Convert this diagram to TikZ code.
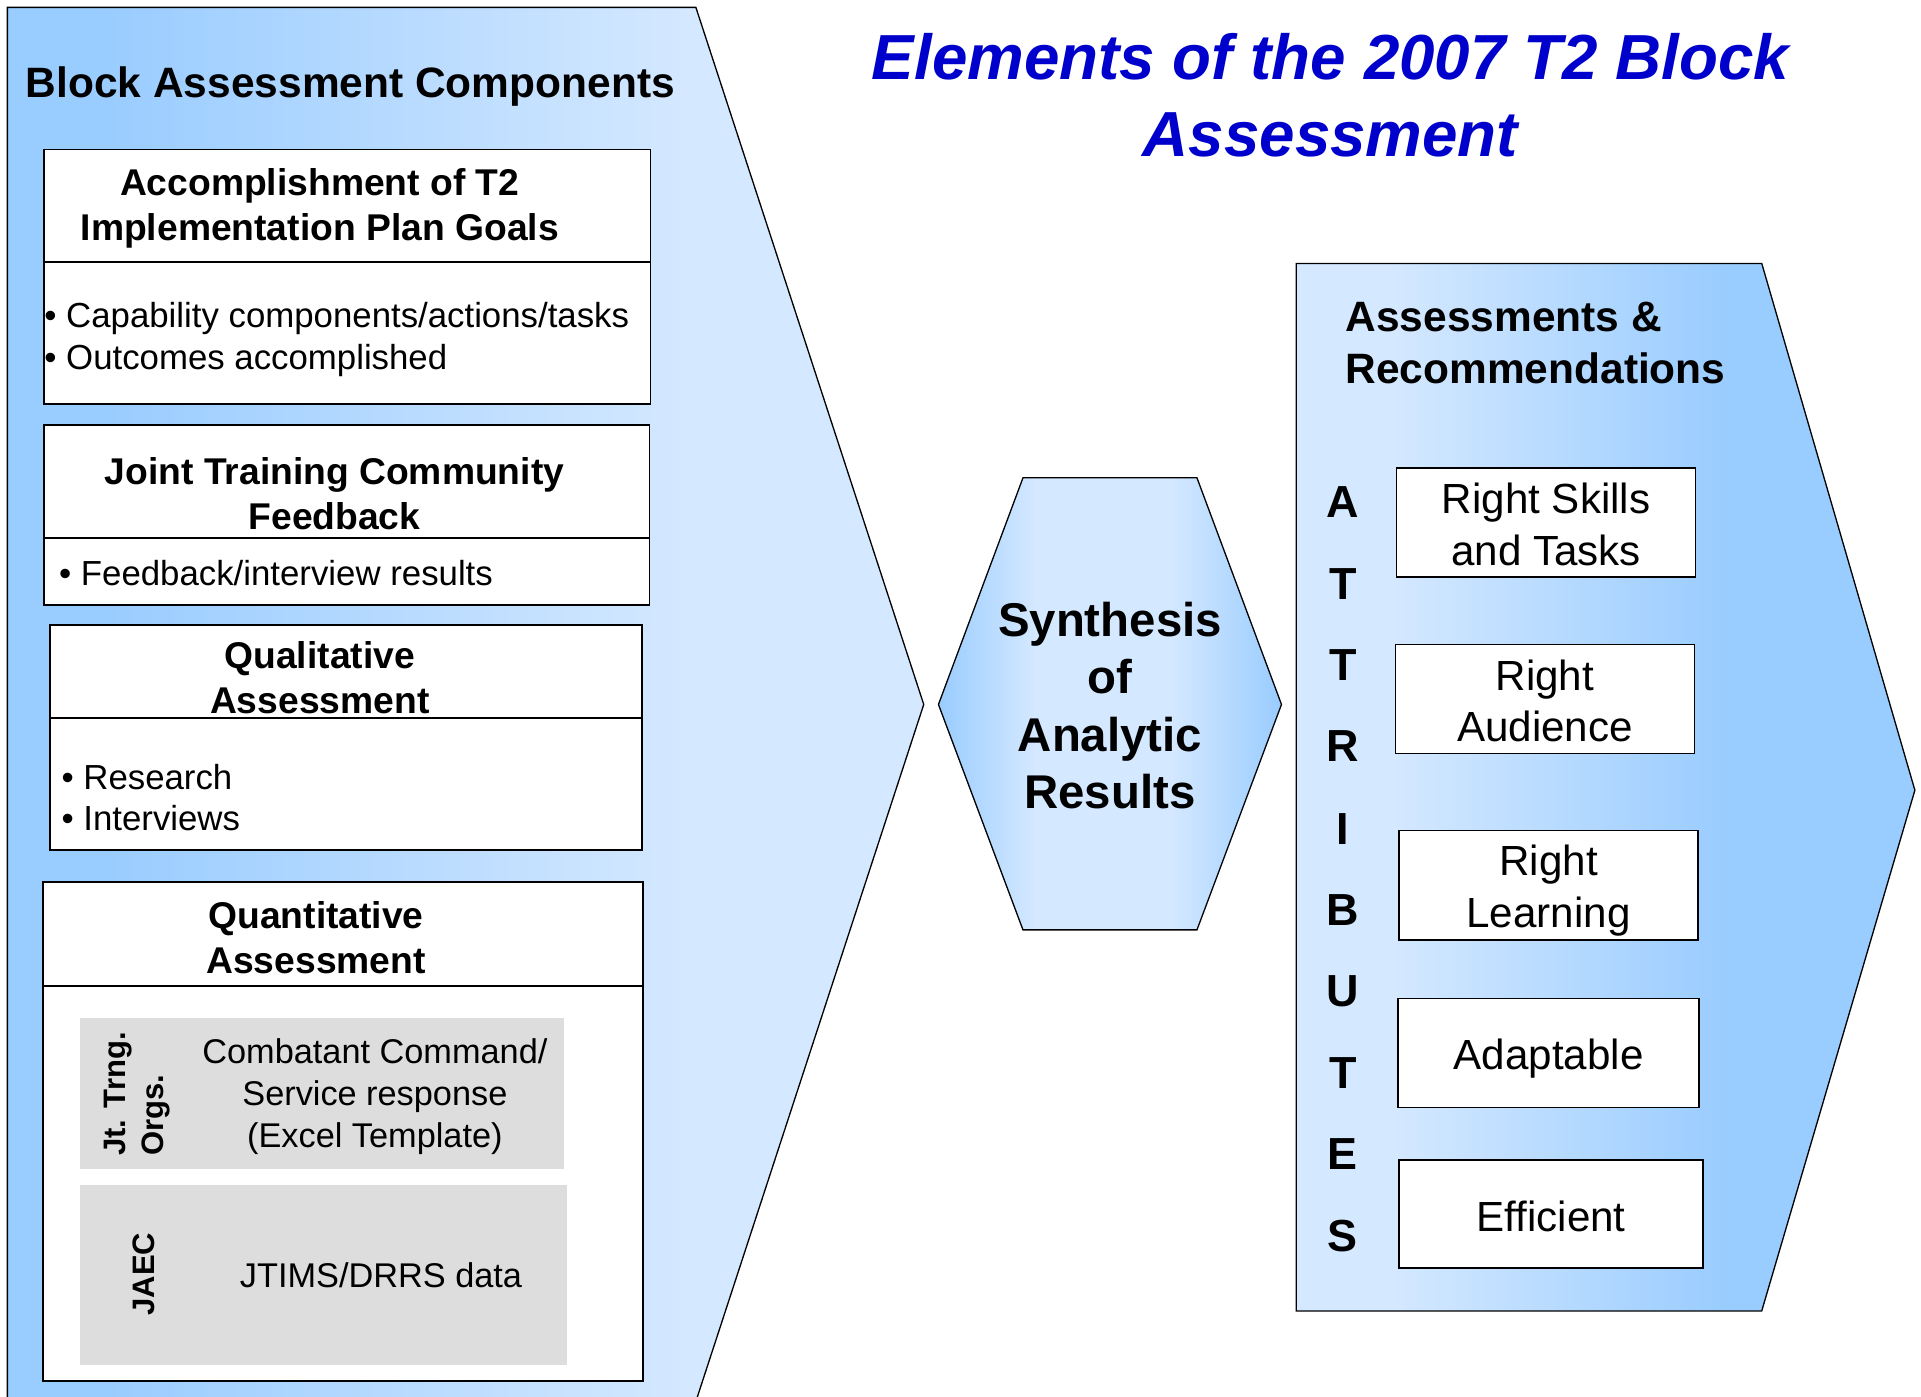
\documentclass[tikz,border=0pt]{standalone}
\usepackage{fontspec}
\setmainfont{Liberation Sans}
\usetikzlibrary{fit}
\definecolor{pdark}{RGB}{153,204,255}
\definecolor{plight}{RGB}{212,232,255}
\definecolor{ttlblue}{RGB}{0,0,204}
\definecolor{greyfill}{RGB}{221,221,221}
\pgfdeclarehorizontalshading{leftshade}{100bp}{color(0bp)=(pdark); color(30bp)=(pdark); color(62bp)=(plight); color(100bp)=(plight)}
\pgfdeclarehorizontalshading{rightshade}{100bp}{color(0bp)=(plight); color(33bp)=(plight); color(60bp)=(pdark); color(100bp)=(pdark)}
\pgfdeclarehorizontalshading{hexshade}{100bp}{color(0bp)=(pdark); color(25bp)=(pdark); color(39bp)=(plight); color(59bp)=(plight); color(75bp)=(pdark); color(100bp)=(pdark)}
\tikzset{
  panel/.style={draw=black, line width=0.8pt},
  wbox/.style={draw=black, fill=white, line width=1pt, inner sep=0pt},
  gbox/.style={draw=none, fill=greyfill, inner sep=0pt},
  divider/.style={draw=black, line width=1pt},
  ttl/.style={font=\fontsize{39}{47.25}\selectfont\bfseries\itshape, text=ttlblue, align=center, inner sep=0pt},
  phdr/.style={font=\fontsize{26}{30}\selectfont\bfseries, inner sep=0pt},
  hdr/.style={font=\fontsize{22.8}{27.5}\selectfont\bfseries, align=center, inner sep=0pt},
  bul/.style={font=\fontsize{21.3}{25.5}\selectfont, align=left, anchor=west, inner sep=0pt},
  body/.style={font=\fontsize{21}{25.5}\selectfont, align=center, inner sep=0pt},
  rot/.style={font=\fontsize{19}{23.25}\selectfont\bfseries, align=left, rotate=90, inner sep=0pt},
  hextxt/.style={font=\fontsize{29}{35.25}\selectfont\bfseries, align=center, inner sep=0pt},
  rhdr/.style={font=\fontsize{26}{31.5}\selectfont\bfseries, align=left, anchor=west, inner sep=0pt},
  letter/.style={font=\fontsize{27.5}{30}\selectfont\bfseries, inner sep=0pt},
  rtxt/.style={font=\fontsize{25.8}{31.5}\selectfont, align=center, inner sep=0pt}
}
\begin{document}
\begin{tikzpicture}[x=0.75pt, y=-0.75pt]
\useasboundingbox (0,0) rectangle (1568,1140);
\fill[white] (0,0) rectangle (1568,1140);
\clip (0,0) rectangle (1568,1140);

% title
\node[ttl] (title) at (1086,78) {Elements of the 2007 T2 Block\\Assessment};

% left panel
\shadedraw[shading=leftshade, panel] (6,6) -- (568,6) -- (754,575) -- (566,1150) -- (6,1150) -- cycle;
\node[phdr] (bac) at (286,71) {Block Assessment Components};

% box 1
\node[wbox, fit={(36,122) (531,330)}] (b1) {};
\draw[divider] (36,214) -- (531,214);
\node[hdr] (b1t) at (261,170) {Accomplishment of T2\\Implementation Plan Goals};
\node[bul] (b1b) at (36,277) {\textbullet\ Capability components/actions/tasks\\\textbullet\ Outcomes accomplished};

% box 2
\node[wbox, fit={(36,347) (530,494)}] (b2) {};
\draw[divider] (36,439) -- (530,439);
\node[hdr] (b2t) at (273,403) {Joint Training Community\\Feedback};
\node[bul] (b2b) at (48,468) {\textbullet\ Feedback/interview results};

% box 3
\node[wbox, fit={(41,510) (524,694)}] (b3) {};
\draw[divider] (41,586) -- (524,586);
\node[hdr] (b3t) at (261,553) {Qualitative\\Assessment};
\node[bul] (b3b) at (50,651) {\textbullet\ Research\\\textbullet\ Interviews};

% box 4
\node[wbox, fit={(35,720) (525,1127)}] (b4) {};
\draw[divider] (35,805) -- (525,805);
\node[hdr] (b4t) at (258,765) {Quantitative\\Assessment};
\node[gbox, fit={(65,831) (460,954)}] (g1) {};
\node[gbox, fit={(65,967) (463,1114)}] (g2) {};
\node[rot] (g1r) at (112,893) {Jt. Trng.\\Orgs.};
\node[body] (g1t) at (306,895) {Combatant Command/\\Service response\\(Excel Template)};
\node[rot] (g2r) at (117,1040) {JAEC};
\node[body] (g2t) at (311,1041) {JTIMS/DRRS data};

% hexagon
\shadedraw[shading=hexshade, panel] (835,390) -- (977,390) -- (1046,575) -- (977,759) -- (835,759) -- (766,575) -- cycle;
\node[hextxt] (syn) at (906,576) {Synthesis\\of\\Analytic\\Results};

% right panel
\shadedraw[shading=rightshade, panel] (1058,215) -- (1438,215) -- (1563,645) -- (1438,1070) -- (1058,1070) -- cycle;
\node[rhdr] (ar) at (1098,280) {Assessments \&\\Recommendations};

\node[letter] (l1) at (1096,410) {A};
\node[letter] (l2) at (1096,477) {T};
\node[letter] (l3) at (1096,543) {T};
\node[letter] (l4) at (1096,609) {R};
\node[letter] (l5) at (1096,677) {I};
\node[letter] (l6) at (1096,743) {B};
\node[letter] (l7) at (1096,809) {U};
\node[letter] (l8) at (1096,876) {T};
\node[letter] (l9) at (1096,942) {E};
\node[letter] (l10) at (1096,1009) {S};

\node[wbox, fit={(1140,382) (1384,471)}] (r1) {};
\node[rtxt] (r1t) at (1262,428) {Right Skills\\and Tasks};
\node[wbox, fit={(1139,526) (1383,615)}] (r2) {};
\node[rtxt] (r2t) at (1261,572) {Right\\Audience};
\node[wbox, fit={(1142,678) (1386,767)}] (r3) {};
\node[rtxt] (r3t) at (1264,727) {Right\\Learning};
\node[wbox, fit={(1141,815) (1387,904)}] (r4) {};
\node[rtxt] (r4t) at (1264,864) {Adaptable};
\node[wbox, fit={(1142,947) (1390,1035)}] (r5) {};
\node[rtxt] (r5t) at (1266,993) {Efficient};
\end{tikzpicture}
\end{document}
